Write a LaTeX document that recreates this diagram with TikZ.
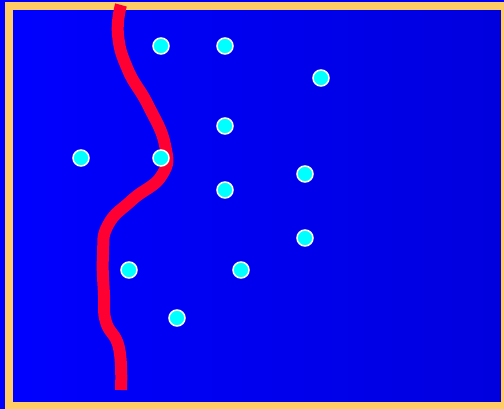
\documentclass[tikz,border=0pt]{standalone}
\usetikzlibrary{positioning}
\definecolor{fieldblue}{RGB}{0,0,255}
\definecolor{fielddark}{RGB}{0,0,222}
\definecolor{frameorange}{RGB}{255,204,102}
\definecolor{riverred}{RGB}{255,0,51}
\definecolor{dotcyan}{RGB}{0,255,255}

\begin{document}
\begin{tikzpicture}[
    x=1pt, y=-1pt,
    frame/.style={
        draw=frameorange,
        line width=8pt,
        left color=fieldblue,
        right color=fielddark
    },
    river/.style={
        draw=riverred,
        line width=12pt,
        line join=round
    },
    dot/.style={
        circle,
        draw=white,
        fill=dotcyan,
        line width=1.5pt,
        inner sep=0pt,
        minimum size=16pt
    }
]

% Canvas and frame
\clip (0,0) rectangle (504,409);
\fill[fieldblue] (0,0) rectangle (504,409);
\draw[frame] (9,6) rectangle (505,406);

% River
\draw[river] plot[smooth, tension=0.8] coordinates {
    (121,5) (118,35) (128,70) (148,105) (165,145)
    (162,175) (132,200) (108,225) (103,255) (104,295)
    (106,322) (119,348) (121,390)
};

% Points
\node[dot] (p1) at (161,46) {};
\node[dot] (p2) at (225,46) {};
\node[dot] (p3) at (321,78) {};
\node[dot] (p4) at (225,126) {};
\node[dot] (p5) at (81,158) {};
\node[dot] (p6) at (161,158) {};
\node[dot] (p7) at (305,174) {};
\node[dot] (p8) at (225,190) {};
\node[dot] (p9) at (305,238) {};
\node[dot] (p10) at (129,270) {};
\node[dot] (p11) at (241,270) {};
\node[dot] (p12) at (177,318) {};

\end{tikzpicture}
\end{document}
